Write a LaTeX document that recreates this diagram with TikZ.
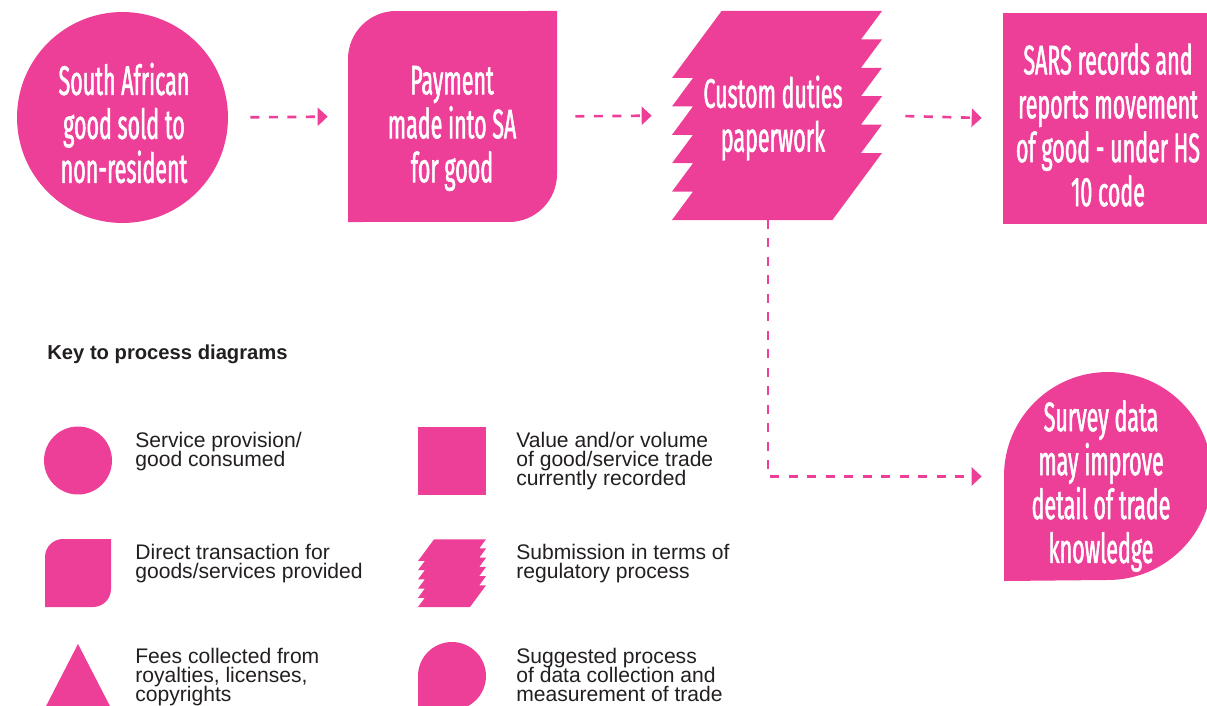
\documentclass[tikz,border=0pt]{standalone}
\usepackage{fontspec}
\setmainfont{Liberation Sans}
\newfontfamily\boxfont[FakeStretch=0.52,FakeBold=1.3]{Fira Sans}
\usetikzlibrary{arrows.meta}
\definecolor{tradepink}{RGB}{237,63,151}
\definecolor{keygrey}{RGB}{35,31,32}
\newcommand\tightlead{\lineskiplimit=-20pt\relax}

\tikzset{
  tagshape/.style={fill=tradepink, inner sep=0pt},
  tagtext/.style={text=white, align=center, inner sep=0pt,
    font=\boxfont\fontsize{23.5}{25}\selectfont\tightlead},
  flow/.style={draw=tradepink, line width=1.5pt, dash pattern=on 0.18cm off 0.19cm,
    -{Triangle[length=0.2cm,width=0.36cm]}},
  keytext/.style={text=keygrey, align=left, inner sep=0pt, anchor=base west,
    font=\fontsize{12}{10.8}\selectfont\tightlead},
  dutyform/.pic={
    \fill[tradepink] (0,0) -- (21,28.4) -- (0,28.4) -- (21,56.8) -- (0,56.8)
      -- (21,85.2) -- (0,85.2) -- (21,113.6) -- (0,113.6) -- (21,142) -- (0,142)
      -- (49.6,209) -- (210,209) -- (189,180.6) -- (210,180.6) -- (189,152.2)
      -- (210,152.2) -- (189,123.8) -- (210,123.8) -- (189,95.4) -- (210,95.4)
      -- (189,67) -- (210,67) -- (160.4,0) -- cycle;
  }
}

\begin{document}
\begin{tikzpicture}[x=0.02cm, y=0.02cm]
  \useasboundingbox (0,0) rectangle (1207,-706);

  % process chain
  \node[tagshape, circle, minimum size=4.22cm] (sale) at (122.5,-117.5) {};
  \node[tagtext] (saletext) at (124,-123) {South African\\good sold to\\non-resident};

  \fill[tradepink] (348,-222) -- (348,-59) arc[start angle=180, end angle=90, radius=0.96cm]
    -- (557,-11) -- (557,-174) arc[start angle=0, end angle=-90, radius=0.96cm] -- cycle;
  \node[minimum width=4.18cm, minimum height=4.22cm, inner sep=0pt] (pay) at (452.5,-116.5) {};
  \node[tagtext] (paytext) at (452,-128.5) {Payment\\made into SA\\for good};

  \pic at (672,-220) {dutyform};
  \node[minimum width=4.2cm, minimum height=4.18cm, inner sep=0pt] (duty) at (777,-115.5) {};
  \node[tagtext] (dutytext) at (773,-118) {Custom duties\\paperwork};
  \coordinate (dutyfoot) at (768,-220);

  \node[tagshape, minimum width=4.2cm, minimum height=4.22cm] (sars) at (1108,-118.5) {};
  \node[tagtext] (sarstext) at (1108,-125) {SARS records and\\reports movement\\of good - under HS\\10 code};

  \fill[tradepink] (1004,-581) -- (1004,-476) arc[start angle=180, end angle=0, radius=2.08cm]
    arc[start angle=0, end angle=-90, radius=2.08cm] -- cycle;
  \node[minimum width=4.16cm, minimum height=4.18cm, inner sep=0pt] (survey) at (1108,-476.5) {};
  \node[tagtext] (surveytext) at (1101,-486) {Survey data\\may improve\\detail of trade\\knowledge};

  \draw[flow, shorten <=0.44cm, shorten >=0.4cm] (sale.east) -- (pay.west);
  \draw[flow, shorten <=0.36cm, shorten >=0.4cm] (pay.east) -- (duty.west);
  \draw[flow, shorten <=0.46cm, shorten >=0.42cm] (duty.east) -- (sars.west);
  \draw[flow, shorten >=0.44cm] (dutyfoot) |- (survey.west);

  % key
  \node[text=keygrey, anchor=west, inner sep=0pt, font=\bfseries\fontsize{11.5}{13}\selectfont] (keytitle) at (47,-354) {Key to process diagrams};

  \node[circle, fill=tradepink, minimum size=1.36cm, inner sep=0pt] (iconsold) at (78,-460.5) {};
  \node[keytext] (keysold) at (135,-466) {Service provision/\\good consumed};

  \fill[tradepink] (45,-607) -- (45,-557) arc[start angle=180, end angle=90, radius=0.36cm]
    -- (111,-539) -- (111,-589) arc[start angle=0, end angle=-90, radius=0.36cm] -- cycle;
  \node[keytext] (keypay) at (135,-578) {Direct transaction for\\goods/services provided};

  \fill[tradepink] (78,-644) -- (113,-712) -- (43,-712) -- cycle;
  \node[keytext] (keyfees) at (135,-701) {Fees collected from\\royalties, licenses,\\copyrights};

  \node[rectangle, fill=tradepink, minimum size=1.36cm, inner sep=0pt] (iconrec) at (452,-461) {};
  \node[keytext] (keyrec) at (516,-485) {Value and/or volume\\of good/service trade\\currently recorded};

  \pic[scale=0.324] at (418,-607) {dutyform};
  \node[keytext] (keyduty) at (516,-578) {Submission in terms of\\regulatory process};

  \fill[tradepink] (418,-710) -- (418,-676) arc[start angle=180, end angle=0, radius=0.68cm]
    arc[start angle=0, end angle=-90, radius=0.68cm] -- cycle;
  \node[keytext] (keysurvey) at (516,-701) {Suggested process\\of data collection and\\measurement of trade};
\end{tikzpicture}
\end{document}
